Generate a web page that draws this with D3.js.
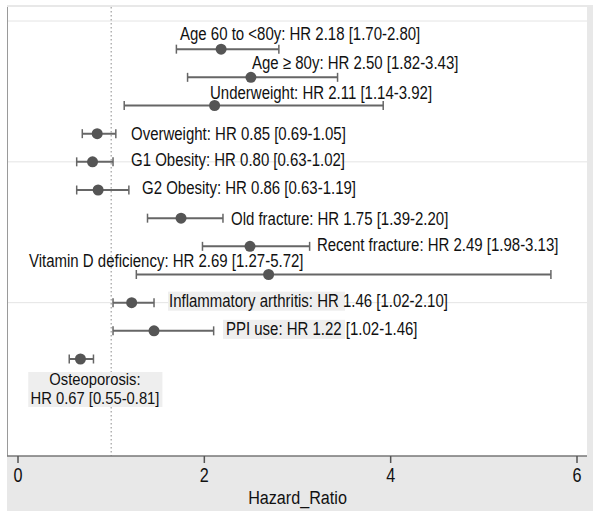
<!DOCTYPE html>
<html><head><meta charset="utf-8">
<script src="https://cdn.jsdelivr.net/npm/d3@7"></script>
<style>body{margin:0;background:#fff;} text{font-family:"Liberation Sans",Arial,Helvetica,sans-serif;fill:#111;}</style>
</head><body><svg id="c" width="600" height="517"></svg>
<script>
// ---- data ----
const rows = [1,2,3,4,5,6,7,8,9,10,11,12];
const labels = [
  "Age 60 to <80y: HR 2.18 [1.70-2.80]",
  "Age \u2265 80y: HR 2.50 [1.82-3.43]",
  "Underweight: HR 2.11 [1.14-3.92]",
  "Overweight: HR 0.85 [0.69-1.05]",
  "G1 Obesity: HR 0.80 [0.63-1.02]",
  "G2 Obesity: HR 0.86 [0.63-1.19]",
  "Old fracture: HR 1.75 [1.39-2.20]",
  "Recent fracture: HR 2.49 [1.98-3.13]",
  "Vitamin D deficiency: HR 2.69 [1.27-5.72]",
  "Inflammatory arthritis: HR 1.46 [1.02-2.10]",
  "PPI use: HR 1.22 [1.02-1.46]",
  "Osteoporosis:\nHR 0.67 [0.55-0.81]"
];
// plotted values as drawn in the picture
const hr    = [2.18, 2.50, 2.11, 0.85, 0.80, 0.86, 1.75, 2.49, 2.69, 1.22, 1.46, 0.67];
const lower = [1.70, 1.82, 1.14, 0.69, 0.63, 0.63, 1.39, 1.98, 1.27, 1.02, 1.02, 0.55];
const upper = [2.80, 3.43, 3.92, 1.05, 1.02, 1.19, 2.20, 3.13, 5.72, 1.46, 2.10, 0.81];
const xTicks = [0, 2, 4, 6];
const refLine = 1;
const yGrid = [0, 5, 10];
const xTitle = "Hazard_Ratio";

// ---- layout (label placement, in axis units / px offsets) ----
const labelX  = [1.739, 2.512, 2.061, 1.213, 1.213, 1.331, 2.286, 3.209, 0.118, 1.621, 2.232, 0.826];
const labelDy = [-16, -15, -13, 0, -2, -2, 0, -2, -14, -2, -2, 20.5];
const highlightBoxes = [ // [x0,x1 in HR units, y0,y1 px offsets from row]
  {row: 10, x0: 1.61, x1: 3.51, y0: -11, y1: 8},
  {row: 11, x0: 2.20, x1: 3.51, y0: -11, y1: 8},
  {row: 12, x0: 0.11, x1: 1.55, y0: 13, y1: 48}
];

const svg = d3.select("#c");
const L = 8, R = 587, T = 7, B = 456;
const x = d3.scaleLinear().domain([0, 6]).range([18, 577]);
const y = d3.scaleLinear().domain([0, 12]).range([21, 359]);
const SX = 0.81;

// outer grey frame and white plot area
svg.append("rect").attr("x", 7).attr("y", 5).attr("width", 586).attr("height", 506).attr("fill", "#e8e8e8");
svg.append("rect").attr("x", L).attr("y", T).attr("width", R - L).attr("height", B - T).attr("fill", "#fff");

// gridlines
svg.selectAll(".grid").data(yGrid).join("line")
  .attr("x1", L).attr("x2", R).attr("y1", d => y(d)).attr("y2", d => y(d))
  .attr("stroke", "#e4e4e4").attr("stroke-width", 1);

// left border
svg.append("line").attr("x1", L - 0.5).attr("x2", L - 0.5).attr("y1", T).attr("y2", B)
  .attr("stroke", "#9a9a9a").attr("stroke-width", 1);

// reference line
svg.append("line").attr("x1", x(refLine)).attr("x2", x(refLine)).attr("y1", T).attr("y2", B)
  .attr("stroke", "#8a8a8a").attr("stroke-width", 1).attr("stroke-dasharray", "1.5,2.5");

// highlight boxes behind some labels
svg.selectAll(".hb").data(highlightBoxes).join("rect")
  .attr("x", d => x(d.x0)).attr("width", d => x(d.x1) - x(d.x0))
  .attr("y", d => y(d.row) + d.y0).attr("height", d => d.y1 - d.y0)
  .attr("fill", "#eeeeee");

// CI lines + caps
const g = svg.append("g");
rows.forEach((r, i) => {
  const yy = y(r);
  g.append("line").attr("x1", x(lower[i])).attr("x2", x(upper[i])).attr("y1", yy).attr("y2", yy)
    .attr("stroke", "#666").attr("stroke-width", 2);
  [lower[i], upper[i]].forEach(v => {
    g.append("line").attr("x1", x(v)).attr("x2", x(v)).attr("y1", yy - 4.5).attr("y2", yy + 4.5)
      .attr("stroke", "#666").attr("stroke-width", 1.5);
  });
  g.append("circle").attr("cx", x(hr[i])).attr("cy", yy).attr("r", 5.5).attr("fill", "#555");
});

// labels
rows.forEach((r, i) => {
  const lines = labels[i].split("\n");
  const multi = lines.length > 1;
  const fs = multi ? 17 : 18.5;
  const sx = multi ? 0.87 : SX;
  lines.forEach((t, k) => {
    svg.append("text")
      .attr("transform", `translate(${x(labelX[i])},${y(r) + labelDy[i] + k * 19}) scale(${sx},1)`)
      .attr("dy", "0.35em")
      .attr("text-anchor", multi ? "middle" : "start")
      .attr("font-size", fs)
      .text(t);
  });
});

// x axis
svg.append("line").attr("x1", L - 1).attr("x2", R).attr("y1", B).attr("y2", B)
  .attr("stroke", "#777").attr("stroke-width", 1.5);
svg.selectAll(".tk").data(xTicks).join("line")
  .attr("x1", d => x(d)).attr("x2", d => x(d)).attr("y1", B).attr("y2", B + 7)
  .attr("stroke", "#555").attr("stroke-width", 1.5);
svg.selectAll(".tl").data(xTicks).join("text")
  .attr("transform", d => `translate(${x(d)},${482}) scale(${SX},1)`)
  .attr("text-anchor", "middle").attr("font-size", 20)
  .text(d => d);
svg.append("text")
  .attr("transform", `translate(${(247 + 348) / 2},${504}) scale(0.85,1)`)
  .attr("text-anchor", "middle").attr("font-size", 19)
  .text(xTitle);
</script></body></html>
